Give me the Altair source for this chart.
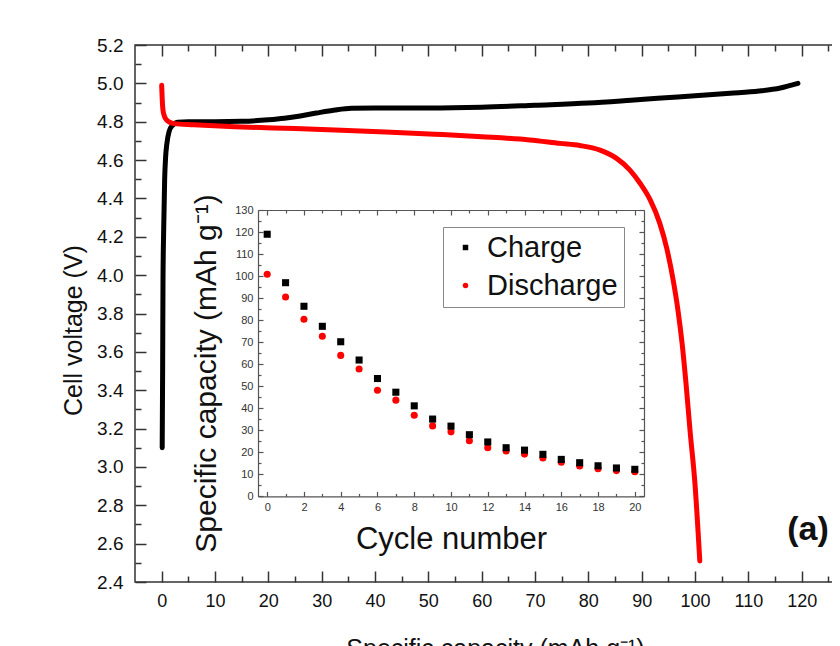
import altair as alt
import pandas as pd

FONT = "Liberation Sans"

# ---- main panel: voltage profile ----
charge_cap = [0.10, 0.18, 0.25, 0.38, 0.56, 0.75, 0.95, 1.4, 2.0, 3.0, 5.0, 10.0, 15.0, 20.0,
              23.0, 26.0, 29.0, 32.5, 35.6, 40.0, 50.0, 60.0, 70.0, 80.0, 88.0, 93.0, 100.0,
              106.6, 112.0, 116.0, 119.3]
charge_volt = [3.10, 3.50, 3.97, 4.24, 4.50, 4.62, 4.68, 4.75, 4.78, 4.797, 4.800, 4.800, 4.802,
               4.810, 4.818, 4.830, 4.845, 4.861, 4.870, 4.872, 4.872, 4.876, 4.886, 4.897, 4.912,
               4.922, 4.935, 4.948, 4.960, 4.976, 5.000]

dis_cap = [0.0, 0.1, 0.25, 0.5, 0.9, 1.5, 2.4, 6.0, 13.7, 25.0, 32.5, 42.0, 51.2, 60.0, 69.0,
           74.7, 78.4, 82.2, 85.3, 87.8, 89.7, 91.6, 93.4, 94.7, 95.9, 96.8, 97.6, 98.3, 99.1,
           100.0, 100.9]
dis_volt = [4.99, 4.92, 4.86, 4.83, 4.81, 4.797, 4.79, 4.784, 4.774, 4.764, 4.757, 4.747, 4.735,
            4.722, 4.705, 4.687, 4.676, 4.652, 4.609, 4.548, 4.479, 4.392, 4.27, 4.14, 3.975,
            3.818, 3.64, 3.44, 3.18, 2.91, 2.51]

main_x_major = [0, 10, 20, 30, 40, 50, 60, 70, 80, 90, 100, 110, 120, 130]
main_x_minor = [5, 15, 25, 35, 45, 55, 65, 75, 85, 95, 105, 115, 125]
main_y_major = [2.4, 2.6, 2.8, 3.0, 3.2, 3.4, 3.6, 3.8, 4.0, 4.2, 4.4, 4.6, 4.8, 5.0, 5.2]
main_y_minor = [2.5, 2.7, 2.9, 3.1, 3.3, 3.5, 3.7, 3.9, 4.1, 4.3, 4.5, 4.7, 4.9, 5.1]

# ---- inset: cycling ----
cycles = list(range(21))
cyc_charge = [119.0, 97.0, 86.3, 77.2, 70.2, 61.9, 53.5, 47.3, 41.1, 35.1, 31.9, 28.0, 24.7,
              22.1, 21.0, 19.1, 16.8, 15.3, 13.9, 12.9, 12.3]
cyc_discharge = [100.8, 90.5, 80.4, 72.7, 64.0, 57.8, 48.2, 43.7, 36.8, 32.0, 29.3, 25.3, 22.1,
                 20.6, 19.2, 17.4, 15.5, 13.8, 12.6, 11.7, 11.2]
series_names = ["Charge", "Discharge"]

in_x_major = [0, 2, 4, 6, 8, 10, 12, 14, 16, 18, 20]
in_x_minor = [1, 3, 5, 7, 9, 11, 13, 15, 17, 19]
in_y_major = [0, 10, 20, 30, 40, 50, 60, 70, 80, 90, 100, 110, 120, 130]
in_y_minor = [5, 15, 25, 35, 45, 55, 65, 75, 85, 95, 105, 115, 125]

panel_label = ["(a)"]

# ---- tables ----
df_charge = pd.DataFrame({"cap": charge_cap, "volt": charge_volt})
df_dis = pd.DataFrame({"cap": dis_cap, "volt": dis_volt})
df_cyc = pd.concat([
    pd.DataFrame({"cycle": cycles, "cap": cyc_discharge, "series": series_names[1]}),
    pd.DataFrame({"cycle": cycles, "cap": cyc_charge, "series": series_names[0]}),
], ignore_index=True)
df_lab = pd.DataFrame({"label": panel_label})

W, H = 720, 537

# inset frame position inside the main plot area (pixels)
IN_L, IN_R, IN_T, IN_B = 123, 509, 165, 451.4

xs_main = alt.Scale(domain=[-5, 130], nice=False, zero=False)
ys_main = alt.Scale(domain=[2.4, 5.2], nice=False, zero=False)
xs_in = alt.Scale(domain=[-0.5, 20.5], range=[IN_L, IN_R], nice=False, zero=False)
ys_in = alt.Scale(domain=[0, 130], range=[IN_B, IN_T], nice=False, zero=False)

MAINC = "#333333"
INC = "#555555"


def axis(orient, values, tick, color, width, labels=False, **kw):
    """Axis whose ticks point into the frame: the axis line is moved inwards by the tick
    length (offset) and the frame itself is drawn separately."""
    args = dict(orient=orient, values=values, tickSize=tick, grid=False, domain=False,
                tickColor=color, tickWidth=width, labels=labels, labelFont=FONT,
                titleFont=FONT, titleFontWeight="normal", labelColor="#111111",
                titleColor="#111111", labelFlush=False, labelOverlap=False)
    if "title" not in kw:
        args["title"] = None
    args.update(kw)
    return alt.Axis(**args)


def frame(orient, offset, color, width):
    return alt.Axis(orient=orient, offset=offset, ticks=False, labels=False, grid=False,
                    domain=True, domainColor=color, domainWidth=width, title=None)


# main axes (frame = view stroke)
ax_main_bottom = axis("bottom", main_x_major, 11, MAINC, 1.5, labels=True, format="d",
                      offset=-11, labelFontSize=18, labelPadding=10,
                      title="Specific capacity (mAh g\u207b\u00b9)", titleFontSize=25,
                      titlePadding=26)
ax_main_left = axis("left", main_y_major, 11, MAINC, 1.5, labels=True, format=".1f",
                    offset=-11, labelFontSize=19, labelPadding=12, title="Cell voltage (V)",
                    titleFontSize=25, titlePadding=10, titleY=285)
ax_main_top = axis("top", main_x_major, 11, MAINC, 1.5, offset=-11)
ax_main_left_minor = axis("left", main_y_minor, 6, MAINC, 1.5, offset=-6)
ax_main_bottom_minor = axis("bottom", main_x_minor, 6, MAINC, 1.5, offset=-6)
ax_main_top_minor = axis("top", main_x_minor, 6, MAINC, 1.5, offset=-6)

# inset axes
OB = IN_B - H          # bottom axis offset
OL = -IN_L             # left axis offset
OT = -IN_T             # top axis offset
OR = IN_R - W          # right axis offset
ax_in_bottom = axis("bottom", in_x_major, 5, INC, 1.2, labels=True, format="d", offset=OB - 5,
                    labelFontSize=11, labelPadding=5, labelColor="#333333",
                    title="Cycle number", titleFontSize=31, titlePadding=12)
ax_in_left = axis("left", in_y_major, 5, INC, 1.2, labels=True, format="d", offset=OL - 5,
                  labelFontSize=11, labelPadding=5, labelColor="#333333",
                  title="Specific capacity (mAh g\u207b\u00b9)", titleFontSize=30,
                  titlePadding=13, titleY=328)
ax_in_top = axis("top", in_x_major, 5, INC, 1.2, offset=OT - 5)
ax_in_right = axis("right", in_y_major, 5, INC, 1.2, offset=OR - 5)
ax_in_bottom_minor = axis("bottom", in_x_minor, 3, INC, 1.2, offset=OB - 3)
ax_in_left_minor = axis("left", in_y_minor, 3, INC, 1.2, offset=OL - 3)
ax_in_top_minor = axis("top", in_x_minor, 3, INC, 1.2, offset=OT - 3)
ax_in_right_minor = axis("right", in_y_minor, 3, INC, 1.2, offset=OR - 3)
fr_in_bottom = frame("bottom", OB, INC, 1.2)
fr_in_left = frame("left", OL, INC, 1.2)
fr_in_top = frame("top", OT, INC, 1.2)
fr_in_right = frame("right", OR, INC, 1.2)


def curve(df, color, xa, ya):
    return alt.Chart(df).mark_line(color=color, strokeWidth=5, strokeCap="round",
                                   strokeJoin="round", interpolate="monotone").encode(
        x=alt.X("cap:Q", scale=xs_main, axis=xa),
        y=alt.Y("volt:Q", scale=ys_main, axis=ya),
    )


def dummy_main(xa, ya):
    return alt.Chart(df_charge).mark_point(opacity=0).encode(
        x=alt.X("cap:Q", scale=xs_main, axis=xa),
        y=alt.Y("volt:Q", scale=ys_main, axis=ya),
    )


def dummy_in(xa, ya):
    return alt.Chart(df_cyc).mark_point(opacity=0).encode(
        x=alt.X("cycle:Q", scale=xs_in, axis=xa),
        y=alt.Y("cap:Q", scale=ys_in, axis=ya),
    )


legend = alt.Legend(title=None, orient="none", legendX=308, legendY=182, labelFontSize=29,
                    labelFont=FONT, labelColor="#111111", symbolSize=30, symbolStrokeWidth=0,
                    strokeColor="#888888", padding=6, rowPadding=8, symbolOffset=2,
                    labelOffset=7, fillColor="#ffffff")

points = alt.Chart(df_cyc).mark_point(filled=True, size=50, opacity=1, strokeWidth=0).encode(
    x=alt.X("cycle:Q", scale=xs_in, axis=ax_in_bottom),
    y=alt.Y("cap:Q", scale=ys_in, axis=ax_in_left),
    color=alt.Color("series:N", scale=alt.Scale(domain=series_names, range=["#000000", "#ff0000"]),
                    legend=legend),
    shape=alt.Shape("series:N", scale=alt.Scale(domain=series_names, range=["square", "circle"]),
                    legend=legend),
)

label = alt.Chart(df_lab).mark_text(font=FONT, fontSize=34, fontWeight="bold", color="#111111",
                                    align="center", baseline="middle").encode(
    x=alt.value(673), y=alt.value(485), text="label:N")

chart = alt.layer(
    curve(df_charge, "#000000", ax_main_bottom, ax_main_left),
    curve(df_dis, "#ff0000", None, None),
    dummy_main(ax_main_top, ax_main_left_minor),
    dummy_main(ax_main_bottom_minor, None),
    dummy_main(ax_main_top_minor, None),
    points,
    dummy_in(ax_in_top, ax_in_right),
    dummy_in(ax_in_bottom_minor, ax_in_left_minor),
    dummy_in(ax_in_top_minor, ax_in_right_minor),
    dummy_in(fr_in_bottom, fr_in_left),
    dummy_in(fr_in_top, fr_in_right),
    label,
).resolve_scale(x="independent", y="independent").properties(
    width=W, height=H,
    autosize=alt.AutoSizeParams(type="none"),
    padding={"left": 127, "top": 37, "right": -23, "bottom": 64},
    background="#ffffff",
).configure_view(stroke=MAINC, strokeWidth=1.5)

chart.save("out.html", embed_options={"renderer": "svg", "actions": False})
